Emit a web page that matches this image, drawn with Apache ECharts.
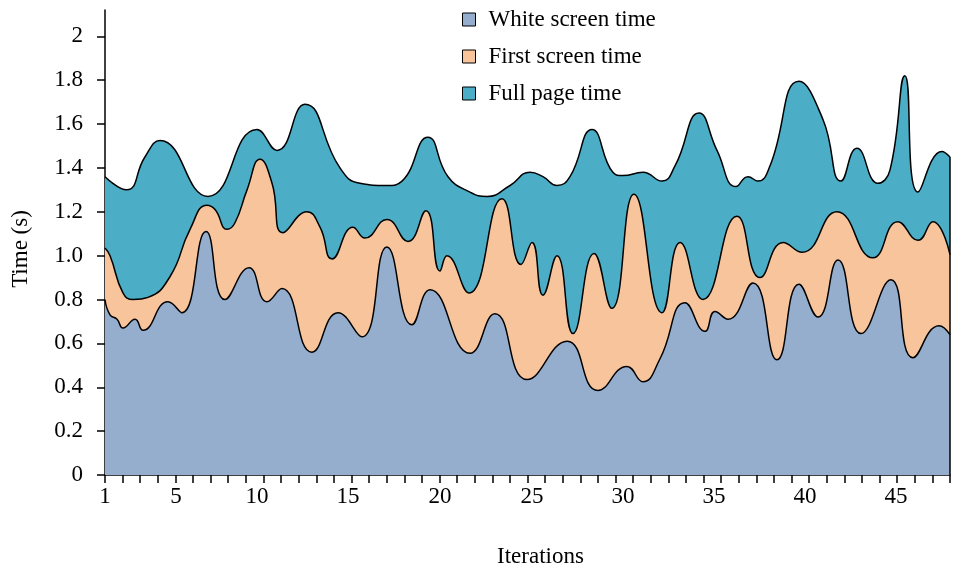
<!DOCTYPE html>
<html>
<head>
<meta charset="utf-8">
<script src="https://cdn.jsdelivr.net/npm/echarts@6/dist/echarts.min.js"></script>
<style>
html,body{margin:0;padding:0;background:#fff;}
#chart{width:957px;height:572px;}
</style>
</head>
<body>
<div id="chart"></div>
<script>
// Series names / legend
const seriesNames = ['White screen time', 'First screen time', 'Full page time'];
const seriesColors = ['#96aecd', '#f8c49b', '#4badc6'];

// White screen time: [iteration, seconds]
const whiteX = [1.00,1.28,1.67,2.00,2.67,3.11,4.50,5.28,6.62,7.67,9.01,10.01,10.84,12.51,13.96,15.29,16.68,18.07,19.08,21.30,22.69,24.47,26.70,28.42,30.03,30.92,31.87,33.26,34.37,34.93,35.65,37.04,38.38,39.60,40.66,41.77,43.05,44.71,45.94,47.39,48.00];
const whiteY = [0.80,0.73,0.71,0.67,0.71,0.66,0.79,0.74,1.11,0.80,0.945,0.79,0.85,0.56,0.74,0.63,1.04,0.685,0.845,0.555,0.735,0.435,0.61,0.385,0.495,0.425,0.53,0.785,0.655,0.745,0.71,0.875,0.525,0.87,0.72,0.98,0.645,0.89,0.535,0.68,0.64];

// First screen time
const firstX = [1.00,1.28,2.00,2.56,3.39,4.62,5.73,6.67,7.12,7.79,8.23,8.90,9.62,10.29,10.90,12.23,12.96,13.63,14.79,15.46,16.68,17.85,18.85,19.63,20.02,21.24,23.08,24.14,24.75,25.36,26.14,27.03,28.20,29.19,30.42,31.98,32.99,34.26,36.15,37.43,38.72,39.77,41.71,43.71,45.10,46.22,47.05,48.00];
const firstY = [1.035,1.00,0.83,0.80,0.81,0.905,1.12,1.23,1.21,1.12,1.15,1.30,1.44,1.33,1.105,1.20,1.13,0.985,1.13,1.08,1.165,1.065,1.205,0.93,1.00,0.83,1.26,0.96,1.06,0.82,1.00,0.645,1.01,0.76,1.28,0.74,1.06,0.80,1.18,0.90,1.06,1.015,1.20,0.99,1.155,1.07,1.155,1.005];

// Full page time
const fullX = [1.00,2.21,3.22,4.06,6.73,9.45,10.57,12.12,14.07,15.18,16.68,17.52,18.96,20.08,21.30,22.25,23.53,24.64,25.36,26.14,26.86,28.09,29.25,29.81,30.92,31.98,32.71,34.04,35.04,36.10,36.76,37.32,37.99,39.60,40.94,41.94,42.82,43.99,44.66,45.49,46.22,47.55,48.00];
const fullY = [1.36,1.30,1.45,1.525,1.27,1.575,1.48,1.69,1.40,1.33,1.32,1.34,1.54,1.36,1.29,1.27,1.32,1.38,1.36,1.32,1.36,1.575,1.38,1.365,1.38,1.34,1.41,1.65,1.48,1.315,1.36,1.34,1.41,1.795,1.62,1.34,1.49,1.33,1.39,1.82,1.29,1.475,1.45];

// Axis tick labels (text and where they sit on the axis)
const xLabelTexts = ['1','5','10','15','20','25','30','35','40','45'];
const xLabelPos = [1, 4.95, 9.45, 14.52, 19.63, 24.75, 29.81, 34.87, 39.93, 45.0];
const xTickCount = 48; // number of minor-tick intervals along the axis
const yLabelValues = [0,0.2,0.4,0.6,0.8,1.0,1.2,1.4,1.6,1.8,2.0];
const yLabelTexts = ['0','0.2','0.4','0.6','0.8','1.0','1.2','1.4','1.6','1.8','2'];

const xMin = 1, xMax = 48;
const xTickValues = [];
for (let k = 0; k <= xTickCount; k++) xTickValues.push(xMin + k * (xMax - xMin) / xTickCount);

const zip = (xs, ys) => xs.map((x, i) => [x, ys[i]]);
const FONT = 'Liberation Serif';
const FS = 23;

const chart = echarts.init(document.getElementById('chart'), null, {renderer: 'canvas'});

function mkSeries(idx, xs, ys, withEdge) {
  const s = {
    name: seriesNames[idx],
    type: 'line',
    data: zip(xs, ys),
    smooth: 0.5,
    symbol: 'none',
    color: seriesColors[idx],
    itemStyle: {color: seriesColors[idx]},
    lineStyle: {color: '#000', width: 1.5},
    areaStyle: {color: seriesColors[idx], opacity: 1, origin: 'start'},
    emphasis: {disabled: true},
    animation: false
  };
  if (withEdge) {
    s.markLine = {
      silent: true,
      symbol: 'none',
      label: {show: false},
      lineStyle: {color: '#000', width: 1.5, type: 'solid'},
      data: [[{coord: [xs[xs.length - 1], 0]}, {coord: [xs[xs.length - 1], ys[ys.length - 1]]}]]
    };
  }
  return s;
}

const option = {
  animation: false,
  backgroundColor: '#fff',
  textStyle: {fontFamily: FONT},
  grid: {left: 105, right: 7, top: 10, bottom: 97, containLabel: false, outerBoundsMode: 'none'},
  legend: {
    orient: 'vertical',
    left: 457,
    top: 3,
    icon: 'rect',
    itemWidth: 13,
    itemHeight: 13,
    itemGap: 14,
    selectedMode: false,
    textStyle: {fontFamily: FONT, fontSize: FS, color: '#000', padding: [0, 0, 0, 8]},
    data: seriesNames.map((n, i) => ({
      name: n,
      itemStyle: {color: seriesColors[i], borderColor: '#000', borderWidth: 1}
    }))
  },
  xAxis: {
    type: 'value',
    min: xMin,
    max: xMax,
    name: 'Iterations',
    nameLocation: 'middle',
    nameGap: 70,
    nameTextStyle: {fontFamily: FONT, fontSize: FS, color: '#000', padding: [0, 0, 0, 26]},
    axisLine: {show: true, onZero: false, lineStyle: {color: '#000', width: 1.5}},
    axisTick: {show: true, length: 8, customValues: xTickValues, lineStyle: {color: '#000', width: 1.5}},
    axisLabel: {
      show: true, customValues: xLabelPos, margin: 10, fontFamily: FONT, fontSize: FS, color: '#000',
      formatter: (v) => {
        const i = xLabelPos.findIndex(p => Math.abs(p - v) < 1e-6);
        return i >= 0 ? xLabelTexts[i] : '';
      }
    },
    splitLine: {show: false}
  },
  yAxis: {
    type: 'value',
    min: 0,
    max: 2.12,
    name: 'Time (s)',
    nameLocation: 'middle',
    nameGap: 73,
    nameRotate: 90,
    nameTextStyle: {fontFamily: FONT, fontSize: FS, color: '#000', padding: [0, 13, 0, 0]},
    axisLine: {show: true, lineStyle: {color: '#000', width: 1.5}},
    axisTick: {show: true, length: 8, customValues: yLabelValues, lineStyle: {color: '#000', width: 1.5}},
    axisLabel: {
      show: true, customValues: yLabelValues, margin: 22, fontFamily: FONT, fontSize: FS, color: '#000',
      formatter: (v) => {
        const i = yLabelValues.findIndex(p => Math.abs(p - v) < 1e-6);
        return i >= 0 ? yLabelTexts[i] : '';
      }
    },
    splitLine: {show: false}
  },
  series: [
    mkSeries(2, fullX, fullY, true),
    mkSeries(1, firstX, firstY, false),
    mkSeries(0, whiteX, whiteY, false)
  ]
};
chart.setOption(option);
</script>
</body>
</html>
